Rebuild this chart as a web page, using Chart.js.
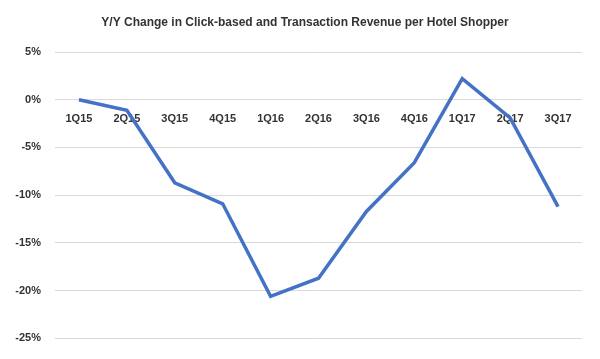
<!DOCTYPE html>
<html>
<head>
<meta charset="utf-8">
<script src="https://cdn.jsdelivr.net/npm/chart.js@4"></script>
<style>
  html, body { margin: 0; padding: 0; background: #fff; }
  #wrap { width: 600px; height: 359px; }
</style>
</head>
<body>
<div id="wrap"><canvas id="revChart"></canvas></div>
<script>
// 季度
const quarters = ['1Q15', '2Q15', '3Q15', '4Q15', '1Q16', '2Q16', '3Q16', '4Q16', '1Q17', '2Q17', '3Q17'];
// 同比变化 (%)
const yoyChange = [0.0, -1.1, -8.7, -10.9, -20.6, -18.7, -11.7, -6.6, 2.2, -1.9, -11.2];
// 纵轴刻度
const yTicks = [5, 0, -5, -10, -15, -20, -25];

const labelFont = { family: 'Liberation Sans, Arial, sans-serif', size: 11, weight: 'bold' };

new Chart(document.getElementById('revChart'), {
  type: 'line',
  data: {
    labels: quarters,
    datasets: [{
      data: yoyChange,
      borderColor: '#4472C4',
      borderWidth: 3.5,
      pointRadius: 0,
      tension: 0,
      fill: false
    }]
  },
  options: {
    responsive: true,
    maintainAspectRatio: false,
    animation: false,
    layout: { padding: { left: 10, right: 0, bottom: 18, top: 0 } },
    scales: {
      x: {
        position: { y: 0 },
        offset: true,
        grid: { display: false },
        border: { display: false },
        ticks: { color: '#333333', font: labelFont, padding: 5, maxRotation: 0, autoSkip: false }
      },
      y: {
        min: Math.min(...yTicks),
        max: Math.max(...yTicks),
        afterBuildTicks: (s) => { s.ticks = yTicks.slice().reverse().map(v => ({ value: v })); },
        afterFit: (s) => { s.width = 45; },
        grid: { color: '#d9d9d9', lineWidth: 1, drawTicks: false },
        border: { display: false },
        ticks: {
          color: '#333333',
          font: labelFont,
          padding: 14,
          callback: (v) => v + '%'
        }
      },
      // 右侧留白
      yRight: {
        position: 'right',
        afterFit: (s) => { s.width = 18; },
        grid: { display: false },
        border: { display: false },
        ticks: { display: false }
      }
    },
    plugins: {
      legend: { display: false },
      tooltip: { enabled: false },
      title: {
        display: true,
        text: 'Y/Y Change in Click-based and Transaction Revenue per Hotel Shopper',
        color: '#333333',
        font: { family: 'Liberation Sans, Arial, sans-serif', size: 12, weight: 'bold' },
        padding: { top: 15, bottom: 22.6 }
      }
    }
  }
});
</script>
</body>
</html>
